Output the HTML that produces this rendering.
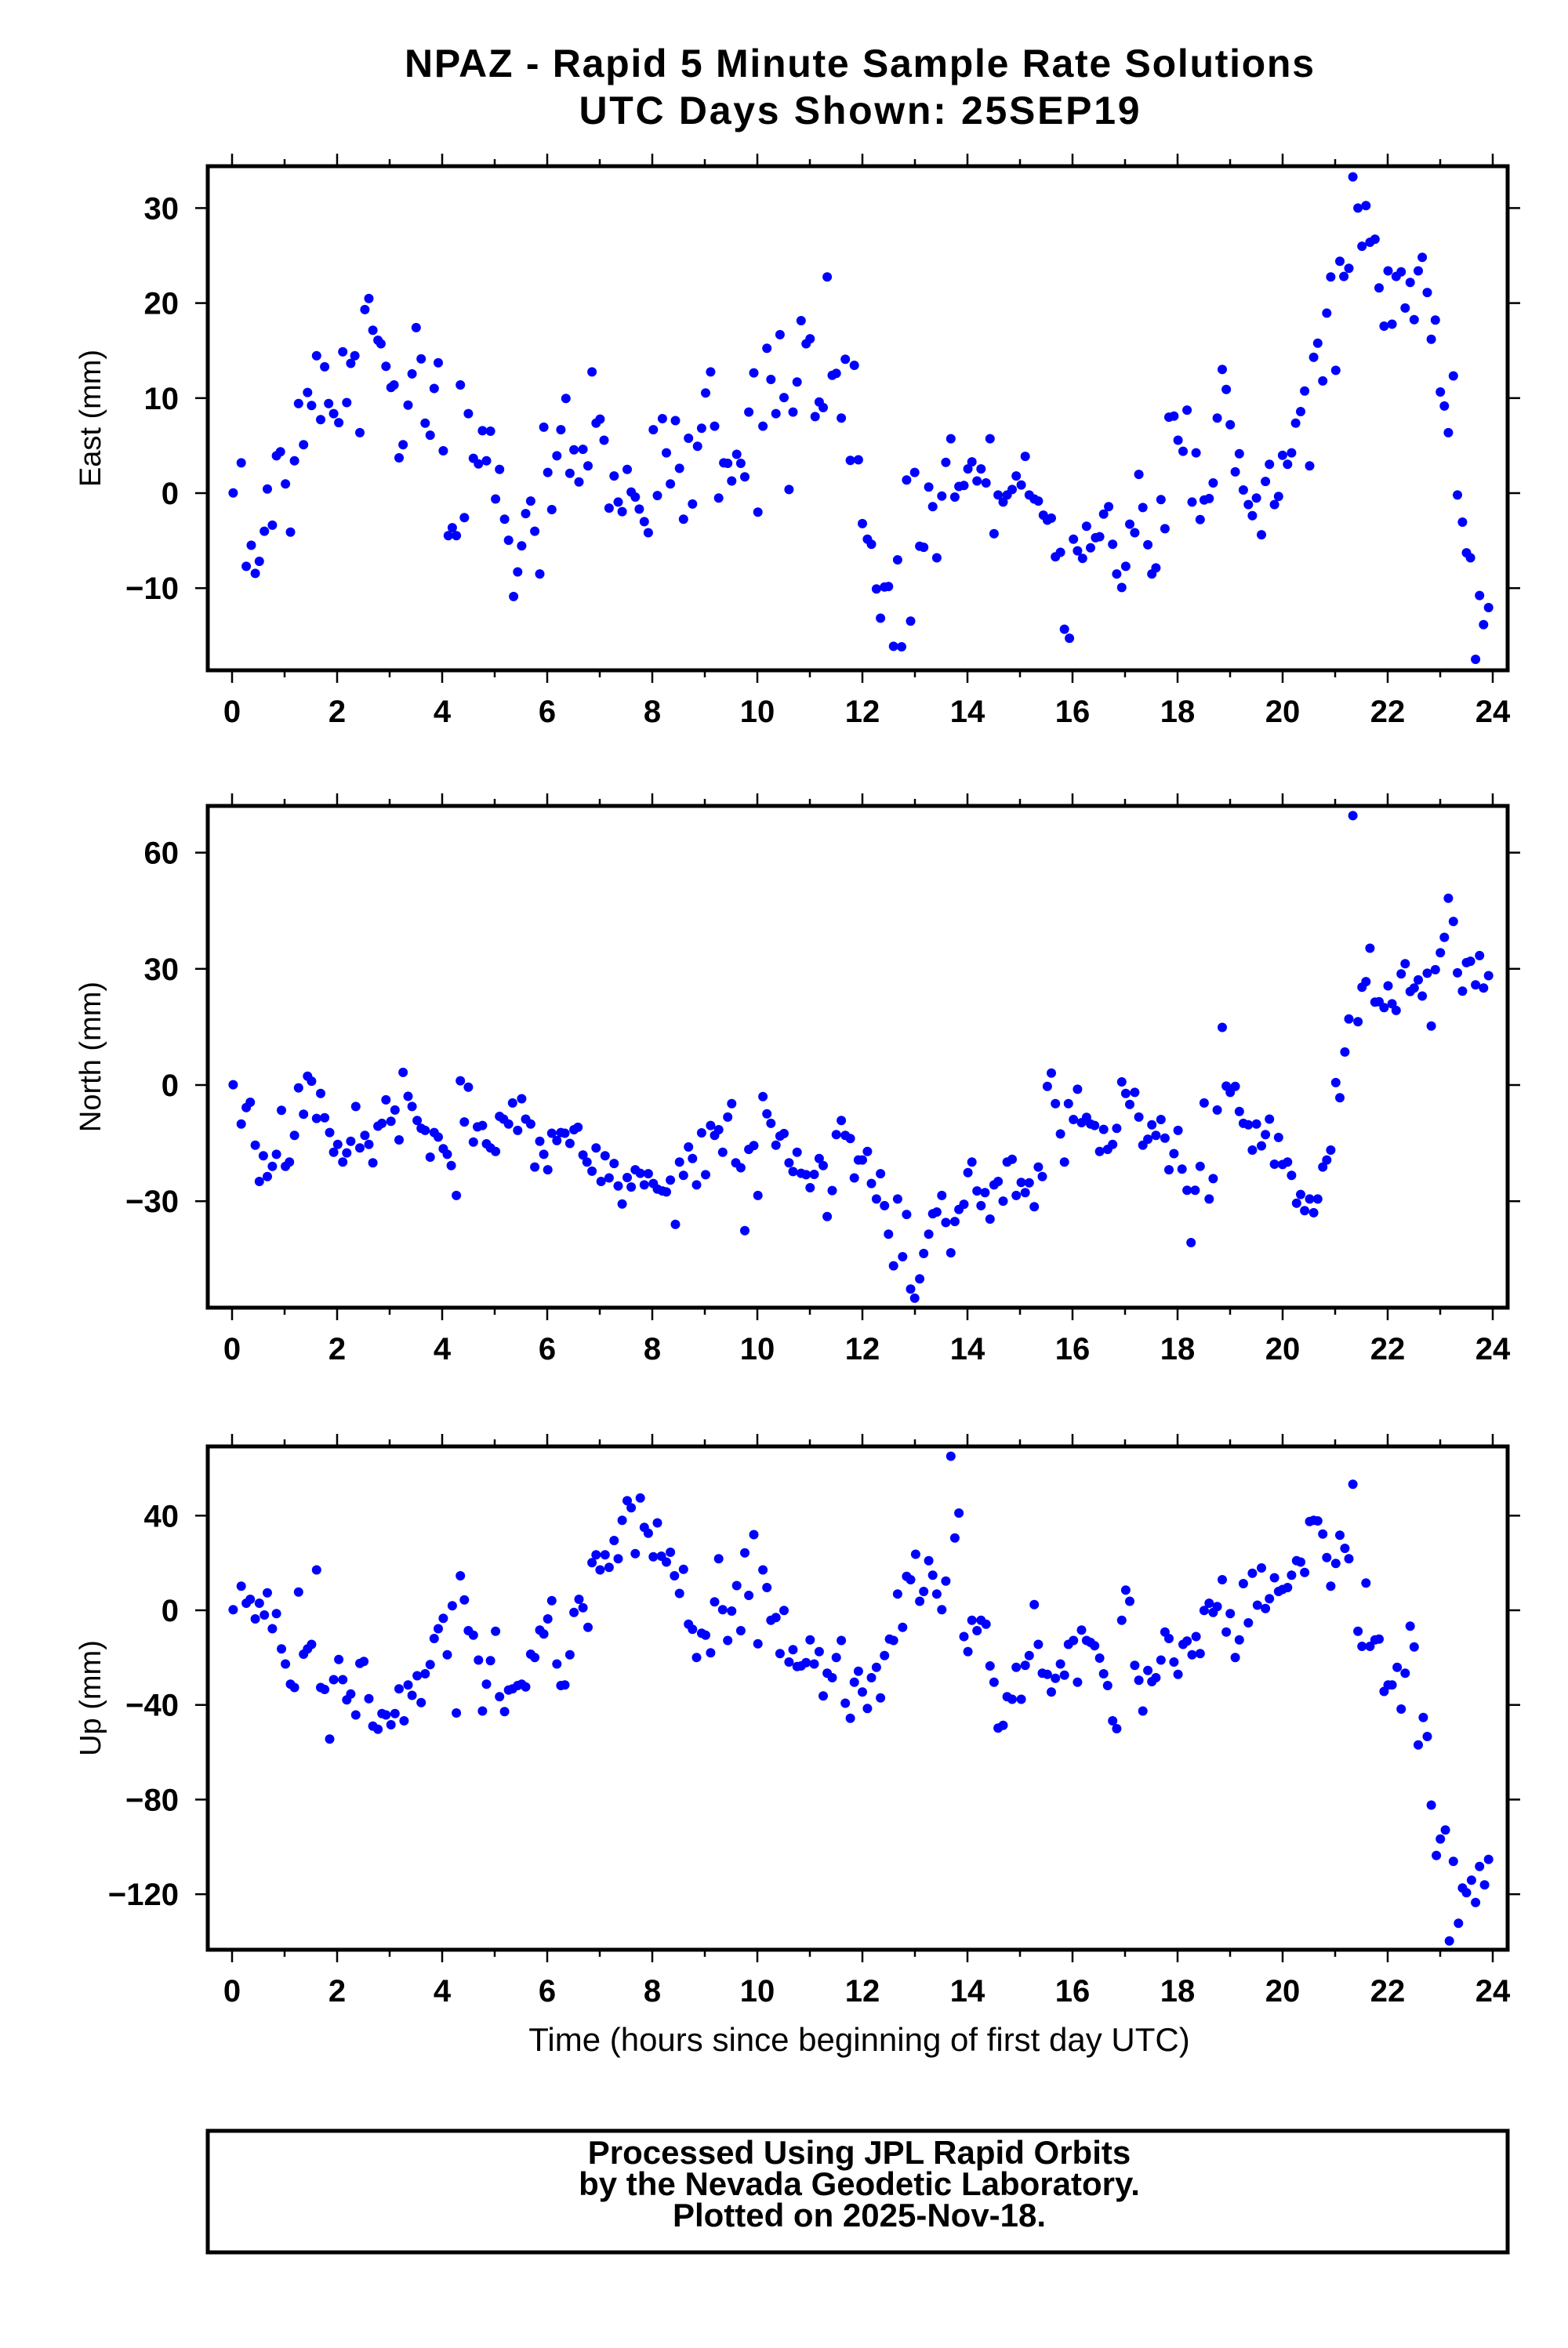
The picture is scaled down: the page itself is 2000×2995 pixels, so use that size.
<!DOCTYPE html>
<html><head><meta charset="utf-8"><style>
html,body{margin:0;padding:0;background:#fff}
svg{display:block}
text{font-family:"Liberation Sans",sans-serif;fill:#000}
.b{font-weight:bold}
</style></head><body>
<svg id="s" width="2000" height="2995" viewBox="0 0 2000 2995" xmlns="http://www.w3.org/2000/svg">
<rect width="2000" height="2995" fill="#fff"/>
<text class="b" x="1096" y="98" font-size="50" text-anchor="middle" textLength="1160">NPAZ - Rapid 5 Minute Sample Rate Solutions</text>
<text class="b" x="1096" y="158" font-size="50" text-anchor="middle" textLength="715">UTC Days Shown:  25SEP19</text>
<g id="g"></g>
<rect x="265" y="2718" width="1658" height="155" fill="none" stroke="#000" stroke-width="5"/>
<text class="b" x="1096" y="2760" font-size="42" text-anchor="middle">Processed Using JPL Rapid Orbits</text>
<text class="b" x="1096" y="2800" font-size="42" text-anchor="middle">by the Nevada Geodetic Laboratory.</text>
<text class="b" x="1096" y="2840" font-size="42" text-anchor="middle">Plotted on 2025-Nov-18.</text>
<text x="1096" y="2616" font-size="42" text-anchor="middle">Time (hours since beginning of first day UTC)</text>
</svg>
<script>
var E=[232,981,240,921,245,1127,250,1085,254,1141,258,1117,263,1057,266,973,271,1045,275,907,279,899,284,963,289,1059,293,917,297,803,302,885,306,781,310,807,315,708,319,835,323,730,327,803,332,823,337,841,341,700,345,801,349,723,353,708,358,861,363,616,367,594,371,657,376,677,379,684,384,729,389,771,392,766,397,911,401,885,406,806,410,744,414,652,419,714,423,842,428,866,432,773,436,722,441,897,446,1066,450,1050,454,1066,458,766,462,1030,466,823,471,912,476,923,480,857,484,917,488,858,493,993,497,934,502,1033,506,1075,511,1187,515,1138,519,1086,523,1022,528,997,532,1057,537,1142,541,850,545,940,549,1014,554,907,558,855,563,793,567,942,571,895,576,959,580,894,585,927,589,740,593,842,597,834,601,876,606,1011,611,947,615,999,619,1018,624,934,628,979,632,989,636,1013,641,1038,645,1060,650,855,654,986,659,833,663,901,667,963,672,837,676,932,680,1033,685,872,689,1003,694,888,698,852,702,782,707,740,711,848,715,991,720,921,724,922,728,957,733,904,737,922,741,949,745,820,750,742,754,1019,759,848,763,693,767,755,772,823,776,666,780,791,785,974,789,820,793,760,797,638,802,684,806,674,811,829,815,800,819,811,823,551,828,747,832,743,837,832,841,715,846,916,850,727,854,915,858,1042,863,1073,867,1083,872,1172,876,1230,880,1168,884,1167,889,1286,893,1114,897,1287,902,955,906,1236,910,940,915,1087,919,1089,924,969,928,1008,932,1110,937,987,941,920,946,873,950,989,954,968,959,966,963,933,967,919,972,957,976,933,981,961,985,873,989,1062,993,985,998,999,1002,985,1007,974,1011,947,1016,965,1020,908,1024,985,1029,993,1033,997,1038,1025,1042,1035,1046,1031,1050,1108,1055,1099,1059,1252,1064,1270,1068,1073,1072,1096,1077,1111,1081,1047,1085,1090,1090,1070,1094,1068,1098,1023,1103,1008,1107,1083,1111,1142,1116,1169,1120,1127,1124,1043,1129,1060,1133,944,1137,1010,1142,1084,1146,1142,1150,1130,1155,994,1159,1052,1163,830,1168,828,1172,876,1177,898,1181,816,1186,999,1190,901,1194,1034,1198,995,1203,992,1207,961,1211,832,1216,735,1220,775,1224,845,1229,939,1233,903,1237,975,1242,1004,1246,1026,1250,991,1255,1064,1259,958,1263,924,1268,1004,1272,988,1276,906,1281,924,1285,901,1289,842,1294,819,1298,778,1303,927,1307,711,1311,683,1316,758,1320,623,1324,551,1329,737,1333,520,1337,550,1342,534,1346,352,1351,414,1355,490,1359,409,1363,482,1368,476,1372,573,1377,649,1381,539,1385,645,1389,550,1394,541,1398,613,1403,562,1407,636,1411,539,1415,512,1420,582,1424,675,1428,637,1433,780,1437,808,1441,861,1446,748,1450,985,1455,1039,1459,1100,1463,1110,1468,1312,1472,1185,1476,1243,1481,1209];
var N=[232,855,240,967,245,920,249,905,254,1027,258,1130,262,1057,266,1116,271,1087,275,1053,280,928,284,1087,288,1075,293,999,297,864,302,939,306,831,310,845,315,951,319,880,323,949,328,991,332,1047,336,1025,341,1075,345,1049,349,1016,354,917,358,1035,363,999,367,1025,371,1077,376,973,380,965,384,898,389,959,393,927,397,1012,401,820,406,888,410,917,415,957,419,979,423,985,428,1061,432,991,436,1004,441,1037,445,1053,449,1085,454,1170,458,844,462,961,466,862,471,1018,475,975,480,971,484,1023,488,1035,493,1045,497,945,501,953,506,967,510,907,515,985,519,895,523,953,528,967,532,1089,537,1016,541,1053,545,1097,549,993,554,1014,558,991,562,993,567,1022,571,983,575,976,580,1055,584,1075,589,1101,593,1035,598,1130,602,1057,606,1120,611,1079,615,1143,619,1194,624,1119,628,1146,632,1097,637,1107,641,1140,645,1108,650,1136,654,1152,659,1157,663,1160,667,1126,672,1252,676,1075,680,1113,685,1032,689,1065,693,1140,698,992,702,1111,707,971,711,999,715,983,719,1047,724,947,728,909,732,1077,737,1091,741,1270,745,1039,750,1028,754,1170,759,889,763,938,767,965,772,1027,776,1001,780,994,785,1077,789,1102,793,1047,797,1107,802,1111,806,1148,810,1110,815,1065,819,1085,823,1230,828,1156,832,997,837,957,841,999,846,1008,850,1120,854,1069,858,1069,863,1045,867,1136,872,1180,876,1108,880,1199,884,1280,889,1370,893,1180,898,1344,902,1224,906,1436,910,1462,915,1407,919,1335,924,1280,928,1222,932,1217,937,1170,941,1247,946,1333,950,1244,954,1210,959,1195,963,1105,967,1075,972,1157,976,1199,980,1162,985,1237,989,1140,993,1130,998,1186,1002,1075,1007,1067,1011,1170,1016,1133,1020,1162,1024,1134,1029,1202,1033,1089,1037,1116,1042,860,1046,822,1050,909,1055,995,1059,1075,1063,909,1068,954,1072,868,1076,963,1081,948,1085,967,1089,971,1094,1045,1098,982,1102,1039,1107,1025,1111,979,1116,847,1120,880,1124,911,1129,877,1133,947,1137,1027,1142,1010,1146,969,1150,999,1155,954,1159,1007,1163,1097,1168,1051,1172,985,1176,1095,1181,1155,1185,1304,1189,1155,1194,1087,1198,907,1203,1180,1207,1122,1211,927,1216,692,1220,859,1224,877,1229,860,1233,931,1237,965,1242,969,1246,1041,1250,967,1255,1029,1259,997,1263,953,1268,1081,1272,1005,1276,1082,1281,1075,1285,1113,1290,1192,1294,1167,1298,1213,1303,1180,1307,1219,1311,1180,1316,1089,1320,1069,1324,1041,1329,849,1333,892,1338,762,1342,668,1346,90,1351,676,1355,578,1359,562,1363,467,1368,620,1372,619,1377,636,1381,574,1385,625,1389,644,1394,540,1398,511,1403,590,1407,580,1411,557,1415,603,1420,538,1424,688,1428,528,1433,480,1437,436,1441,325,1446,391,1450,537,1455,589,1459,508,1463,504,1468,571,1472,488,1476,580,1481,545];
var U=[232,424,240,388,245,414,249,408,254,438,258,414,263,432,266,398,271,453,275,430,280,484,284,507,289,538,293,543,297,397,302,492,306,484,310,477,315,363,319,543,323,546,328,622,332,531,337,500,341,531,345,562,349,553,354,585,358,506,362,503,367,560,371,602,376,607,380,583,384,585,389,600,393,583,397,545,402,594,406,539,410,555,415,525,419,566,423,522,428,508,432,468,436,453,441,437,445,493,450,418,454,582,458,372,462,409,466,456,471,463,476,501,480,579,484,538,488,502,493,457,497,557,502,580,506,547,510,545,515,540,519,538,523,542,528,492,532,497,537,455,541,461,545,438,549,410,554,507,558,540,562,539,567,493,571,428,576,408,580,421,585,451,589,352,593,340,597,363,602,340,606,359,611,318,615,346,619,287,624,257,628,268,632,338,637,253,641,298,645,307,650,343,654,291,658,342,663,351,667,336,671,372,676,399,680,362,685,446,689,454,693,497,698,460,702,463,707,490,711,412,715,346,719,424,724,471,728,426,733,387,737,456,741,337,745,402,750,309,754,476,759,363,763,390,767,440,772,436,776,491,780,425,785,504,789,485,793,511,797,510,802,505,806,470,810,507,815,488,819,556,823,521,828,528,832,497,837,471,841,567,846,590,850,535,854,518,858,550,863,575,867,528,872,512,876,559,880,494,885,469,889,471,893,400,898,451,902,373,906,378,911,339,915,411,919,396,924,349,928,371,932,400,937,424,941,380,946,189,950,314,954,276,959,465,963,488,967,440,972,456,976,440,981,446,985,510,989,535,993,605,998,601,1002,557,1007,561,1011,512,1016,561,1020,509,1024,494,1029,416,1033,477,1037,521,1042,523,1046,550,1050,529,1055,507,1059,524,1063,477,1068,471,1072,535,1076,455,1081,471,1085,474,1089,479,1094,498,1098,522,1102,540,1107,594,1111,606,1116,440,1120,394,1124,411,1129,509,1133,532,1137,579,1142,517,1146,534,1150,528,1155,501,1159,458,1163,468,1168,504,1172,523,1177,477,1181,472,1186,493,1190,465,1194,491,1198,425,1203,414,1207,428,1211,419,1216,378,1220,458,1224,430,1229,497,1233,470,1237,384,1242,444,1246,368,1251,417,1255,360,1259,422,1263,407,1268,375,1272,396,1276,393,1281,390,1285,371,1290,349,1294,351,1298,367,1303,289,1307,287,1311,288,1316,308,1320,344,1324,388,1329,353,1333,310,1338,330,1342,346,1346,232,1351,457,1355,480,1359,383,1363,480,1368,470,1372,469,1377,549,1381,539,1385,539,1390,512,1394,576,1398,521,1403,449,1407,481,1411,631,1416,589,1420,618,1424,723,1429,800,1433,775,1438,761,1442,931,1446,809,1451,904,1455,850,1459,857,1464,838,1468,872,1472,817,1477,845,1481,806];
var h='';
function panel(top,bot,label,ticks,y0,yd,pts,sy,off){
  var L=265,R=1923;
  for(var i=0;i<pts.length;i+=2){h+='<circle cx="'+(pts[i]/0.78).toFixed(1)+'" cy="'+(pts[i+1]/sy+off).toFixed(1)+'" r="6" fill="#0000ff"/>';}
  for(var t=0;t<=24;t++){var x=296+t*67.0;var l=(t%2==0)?16:9;
    h+='<line x1="'+x+'" y1="'+top+'" x2="'+x+'" y2="'+(top-l)+'" stroke="#000" stroke-width="2.5"/>';
    h+='<line x1="'+x+'" y1="'+bot+'" x2="'+x+'" y2="'+(bot+l)+'" stroke="#000" stroke-width="2.5"/>';
    if(t%2==0)h+='<text class="b" x="'+x+'" y="'+(bot+66)+'" font-size="40" text-anchor="middle">'+t+'</text>';}
  for(var k=0;k<ticks.length;k++){var v=ticks[k];var y=y0-v*yd;
    h+='<line x1="'+(L-16)+'" y1="'+y+'" x2="'+L+'" y2="'+y+'" stroke="#000" stroke-width="2.5"/>';
    h+='<line x1="'+R+'" y1="'+y+'" x2="'+(R+16)+'" y2="'+y+'" stroke="#000" stroke-width="2.5"/>';
    h+='<text class="b" x="228" y="'+(y+14)+'" font-size="40" text-anchor="end">'+(v<0?'\u2212'+(-v):v)+'</text>';}
  h+='<rect x="'+L+'" y="'+top+'" width="'+(R-L)+'" height="'+(bot-top)+'" fill="none" stroke="#000" stroke-width="5"/>';
  var cy=(top+bot)/2;
  h+='<text x="128" y="'+cy+'" font-size="38" text-anchor="middle" transform="rotate(-90 128 '+cy+')">'+label+'</text>';
}
panel(212,855,'East (mm)',[30,20,10,0,-10],629,12.12,E,1.56,0);
panel(1028,1668,'North (mm)',[60,30,0,-30],1384,4.94,N,2.229,1000);
panel(1845,2487,'Up (mm)',[40,0,-40,-80,-120],2054,3.018,U,1.2,1700);
document.getElementById('g').innerHTML=h;
</script>
</body></html>
